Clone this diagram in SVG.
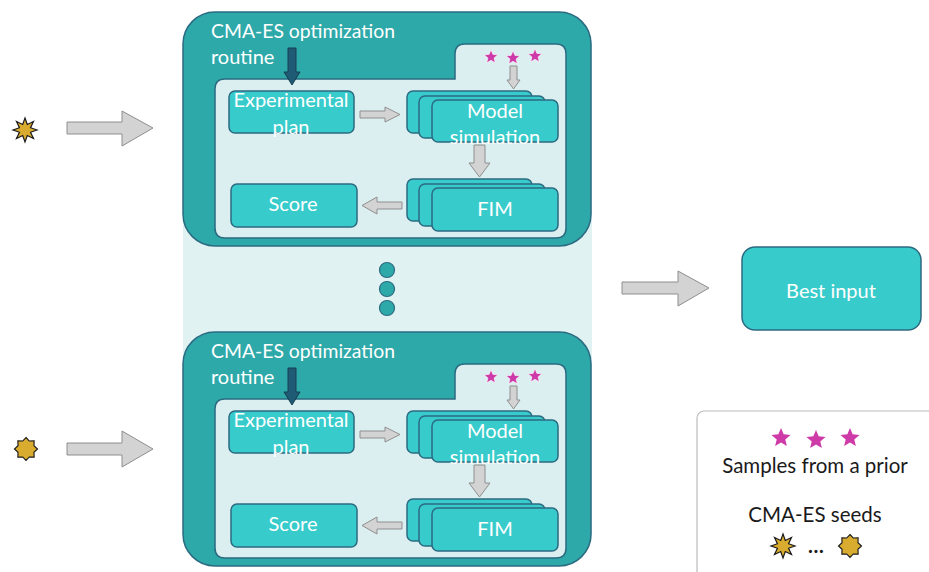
<svg xmlns="http://www.w3.org/2000/svg" xmlns:xlink="http://www.w3.org/1999/xlink" width="929" height="572" viewBox="0 0 929 572">
<style>
.outer{fill:#2ea9a9;stroke:#2b6b82;stroke-width:1.5}
.inner{fill:#dbeff0;stroke:#2b6b82;stroke-width:1.5}
.node{fill:#38cbcb;stroke:#2b6b82;stroke-width:1.5}
.garrow{fill:#d3d3d3;stroke:#8e8e8e;stroke-width:1}
.darrow{fill:#1f5b74;stroke:#173f52;stroke-width:1}
.wt{font-family:Lato,"Open Sans",sans-serif;font-size:20px;fill:#ffffff}
.bt{font-family:Lato,"Open Sans",sans-serif;font-size:20.5px;fill:#1a1a1a}
.mag{fill:#cf3aa9;stroke:#ffffff;stroke-width:0.8}
.seed{fill:#d9ac30;stroke:#1a1a1a;stroke-width:1}
.dot{fill:#2ea9a9;stroke:#2b6b82;stroke-width:1.2}
</style>
<defs>
<path id="star5" d="M0,-10 L2.65,-3.64 L9.51,-3.09 L4.28,1.39 L5.88,8.09 L0,4.5 L-5.88,8.09 L-4.28,1.39 L-9.51,-3.09 L-2.65,-3.64 Z"/>
<path id="spiky" d="M0,-10 L1.91,-4.62 L7.07,-7.07 L4.62,-1.91 L10,0 L4.62,1.91 L7.07,7.07 L1.91,4.62 L0,10 L-1.91,4.62 L-7.07,7.07 L-4.62,1.91 L-10,0 L-4.62,-1.91 L-7.07,-7.07 L-1.91,-4.62 Z"/>
<path id="gear" d="M0,-10 L2.87,-6.93 L7.07,-7.07 L6.93,-2.87 L10,0 L6.93,2.87 L7.07,7.07 L2.87,6.93 L0,10 L-2.87,6.93 L-7.07,7.07 L-6.93,2.87 L-10,0 L-6.93,-2.87 L-7.07,-7.07 L-2.87,-6.93 Z"/>
<g id="routine">
  <rect class="outer" x="183" y="12" width="408" height="234" rx="32"/>
  <path class="inner" d="M225,79 L455,79 L455,54 Q455,44 465,44 L556,44 Q566,44 566,54 L566,228 Q566,238 556,238 L225,238 Q215,238 215,228 L215,89 Q215,79 225,79 Z"/>
  <text class="wt" x="211" y="38" textLength="184" lengthAdjust="spacingAndGlyphs">CMA-ES optimization</text>
  <text class="wt" x="211" y="64">routine</text>
  <path class="darrow" d="M288,48 L296,48 L296,72 L300,72 L292,85 L284,72 L288,72 Z"/>
  <rect class="node" x="229" y="91" width="125" height="42" rx="6"/>
  <text class="wt" x="291" y="107" text-anchor="middle">Experimental</text>
  <text class="wt" x="291" y="134" text-anchor="middle">plan</text>
  <path class="garrow" d="M360,111 L385,111 L385,107 L400,114.5 L385,122 L385,118 L360,118 Z"/>
  <rect class="node" x="407" y="91" width="125" height="42" rx="6"/>
  <rect class="node" x="419" y="96" width="126" height="42" rx="6"/>
  <rect class="node" x="432" y="100" width="126" height="42" rx="6"/>
  <text class="wt" x="495" y="118" text-anchor="middle">Model</text>
  <text class="wt" x="495" y="144" text-anchor="middle">simulation</text>
  <use href="#star5" class="mag" transform="translate(491,57) scale(0.72)"/>
  <use href="#star5" class="mag" transform="translate(513,58) scale(0.72)"/>
  <use href="#star5" class="mag" transform="translate(535,56) scale(0.72)"/>
  <path class="garrow" d="M510,66 L517,66 L517,80 L520,80 L513.5,89 L507,80 L510,80 Z"/>
  <path class="garrow" d="M474,145 L485,145 L485,163 L490,163 L479.5,177 L469,163 L474,163 Z"/>
  <rect class="node" x="407" y="179" width="125" height="42" rx="6"/>
  <rect class="node" x="419" y="184" width="126" height="42" rx="6"/>
  <rect class="node" x="432" y="188" width="126" height="43" rx="6"/>
  <text class="wt" x="495" y="216" text-anchor="middle">FIM</text>
  <path class="garrow" d="M402,202 L377,202 L377,197 L362,205.5 L377,214 L377,209 L402,209 Z"/>
  <rect class="node" x="231" y="184" width="126" height="43" rx="6"/>
  <text class="wt" x="293" y="211" text-anchor="middle">Score</text>
</g>
</defs>
<rect x="183" y="40" width="409" height="500" fill="#e0f2f2"/>
<g id="routine-top"><use href="#routine"/></g>
<g id="routine-bottom"><use href="#routine" transform="translate(0,320)"/></g>
<g id="ellipsis-dots">
  <circle class="dot" cx="387" cy="270" r="7.5"/>
  <circle class="dot" cx="387" cy="289" r="7.5"/>
  <circle class="dot" cx="387" cy="308" r="7.5"/>
</g>
<g id="seed-top"><use href="#spiky" class="seed" transform="translate(25,130) scale(1.2)"/></g>
<g id="seed-bottom"><use href="#gear" class="seed" transform="translate(26,449) scale(1.15)"/></g>
<g id="best-input">
  <rect class="node" x="742" y="247" width="179" height="83" rx="13"/>
  <text class="wt" x="831" y="298" text-anchor="middle">Best input</text>
</g>
<g id="connectors">
  <path class="garrow" d="M67,122 L122,122 L122,111 L153,128 L122,146 L122,134 L67,134 Z"/>
  <path class="garrow" d="M67,443 L122,443 L122,431 L153,449 L122,467 L122,455 L67,455 Z"/>
  <path class="garrow" d="M622,282 L678,282 L678,271 L709,288 L678,306 L678,294 L622,294 Z"/>
</g>
<g id="legend">
  <rect x="697" y="411" width="260" height="180" rx="7" fill="#ffffff" stroke="#bbbbbb" stroke-width="1.2"/>
  <use href="#star5" fill="#cf3aa9" transform="translate(781,438)"/>
  <use href="#star5" fill="#cf3aa9" transform="translate(816,440)"/>
  <use href="#star5" fill="#cf3aa9" transform="translate(850,438)"/>
  <text class="bt" x="815" y="473" text-anchor="middle">Samples from a prior</text>
  <text class="bt" x="815" y="522" text-anchor="middle">CMA-ES seeds</text>
  <use href="#spiky" class="seed" transform="translate(783,546) scale(1.2)"/>
  <text class="bt" x="816" y="553" text-anchor="middle" font-weight="bold" font-size="14">…</text>
  <use href="#gear" class="seed" transform="translate(850,546) scale(1.15)"/>
</g>
</svg>
